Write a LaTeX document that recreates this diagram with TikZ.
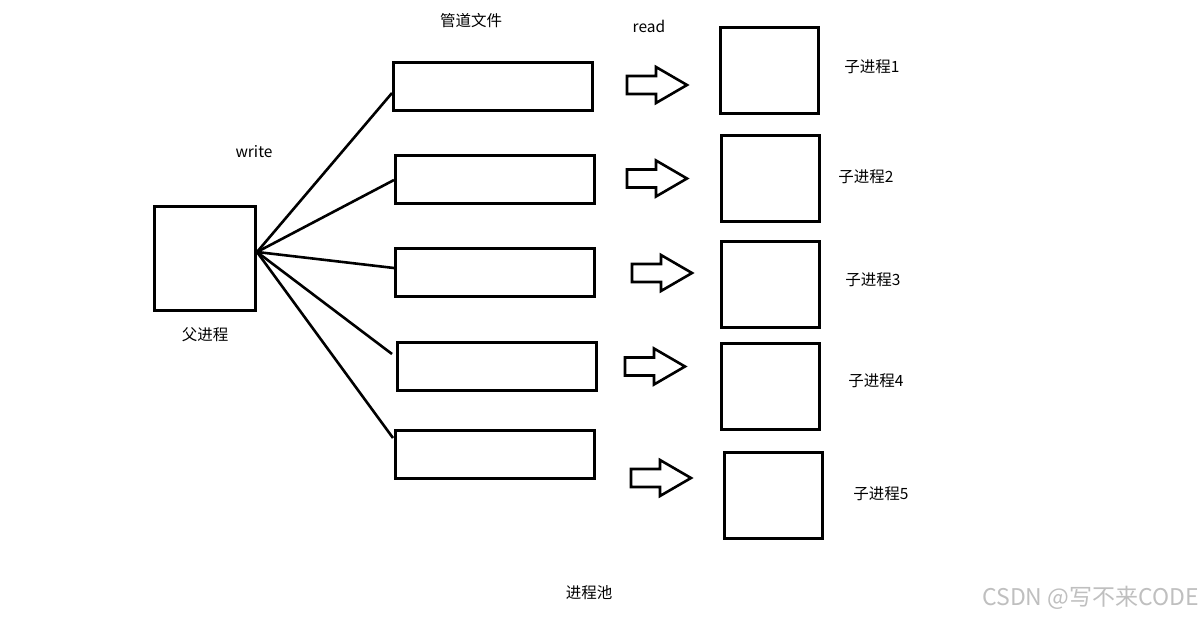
\documentclass[tikz,border=0pt]{standalone}
\usepackage{fontspec}
\setmainfont{Noto Sans CJK SC}
\newcommand\blkarrow[2]{%
  \draw[blk] (#1,#2-9) -- (#1+29,#2-9) -- (#1+29,#2-18) -- (#1+60,#2) -- (#1+29,#2+18) -- (#1+29,#2+9) -- (#1,#2+9) -- cycle;}
\begin{document}
\begin{tikzpicture}[x=1pt,y=-1pt,
  box/.style={draw,line width=3pt,inner sep=0pt,outer sep=0pt},
  pipebox/.style={box,minimum width=199pt,minimum height=48pt},
  childbox/.style={box,minimum width=98pt,minimum height=86pt},
  link/.style={line width=2.6pt},
  blk/.style={line width=2.6pt,line join=miter},
  lbl/.style={font=\fontsize{15.5}{18}\selectfont,inner sep=0pt}]
\path[fill=white] (0,0) rectangle (1203,618);
% parent
\node[box,minimum width=101pt,minimum height=104pt] (parent) at (205,258.5) {};
\coordinate (hub) at (257,252);
% pipes
\node[pipebox] (p1) at (493,86.5) {};
\node[pipebox] (p2) at (495,179.5) {};
\node[pipebox] (p3) at (495,272.5) {};
\node[pipebox] (p4) at (497,366) {};
\node[pipebox] (p5) at (495,454.5) {};
\coordinate (e1) at (392,93);
\coordinate (e2) at (394,180);
\coordinate (e3) at (394,268);
\coordinate (e4) at (392,354);
\coordinate (e5) at (393,438);
\foreach \e in {e1,e2,e3,e4,e5} \draw[link] (hub) -- (\e);
% children
\node[childbox] (c1) at (769.5,70.5) {};
\node[childbox] (c2) at (770.5,178.5) {};
\node[childbox] (c3) at (770.5,284.5) {};
\node[childbox] (c4) at (770.5,386.5) {};
\node[childbox] (c5) at (773.5,495.5) {};
% block arrows
\blkarrow{627}{85}
\blkarrow{627}{178.5}
\blkarrow{632}{273}
\blkarrow{625}{366.5}
\blkarrow{631}{478}
% labels
\node[lbl] (tpipe) at (471,21) {管道文件};
\node[lbl] (tread) at (649,26) {read};
\node[lbl] (twrite) at (254,152) {write};
\node[lbl] (tparent) at (205,335) {父进程};
\node[lbl] (t1) at (872,67) {子进程1};
\node[lbl] (t2) at (866,177) {子进程2};
\node[lbl] (t3) at (873,280) {子进程3};
\node[lbl] (t4) at (876,381) {子进程4};
\node[lbl] (t5) at (881,494) {子进程5};
\node[lbl] (tpool) at (589,593) {进程池};
\node[inner sep=0pt,anchor=east,text=black!25,font=\fontsize{23}{26}\selectfont] (wm) at (1199,598) {CSDN @写不来CODE};
\end{tikzpicture}
\end{document}
